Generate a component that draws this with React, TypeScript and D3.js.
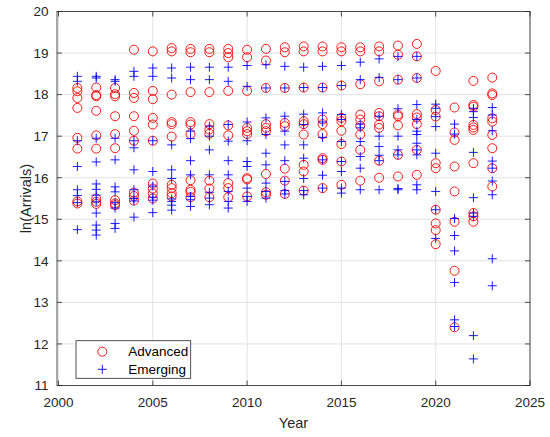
import React from 'react';
import * as d3 from 'd3';

// years 2001..2023, one row of ln(arrivals) values per year
const years = [
  2001, 2002, 2003, 2004, 2005, 2006, 2007, 2008, 2009, 2010, 2011, 2012,
  2013, 2014, 2015, 2016, 2017, 2018, 2019, 2020, 2021, 2022, 2023,
];

const advanced: number[][] = [
  [18.16, 18.08, 17.92, 17.68, 16.96, 16.7, 15.43, 15.38],
  [18.17, 17.99, 17.96, 17.61, 17.02, 16.7, 15.5, 15.42, 15.37],
  [18.16, 18.01, 17.96, 17.48, 17.05, 16.71, 15.46, 15.38, 15.34],
  [19.08, 18.04, 17.92, 17.48, 17.13, 16.89, 15.64, 15.56, 15.45],
  [19.04, 18.09, 17.89, 17.44, 17.28, 16.89, 15.86, 15.74, 15.62, 15.5],
  [19.12, 19.04, 18.0, 17.34, 17.29, 16.99, 15.83, 15.75, 15.63, 15.55],
  [19.1, 19.02, 18.06, 17.34, 17.28, 17.05, 15.94, 15.71, 15.66, 15.53],
  [19.1, 19.02, 18.06, 17.29, 17.16, 17.06, 15.93, 15.74, 15.53],
  [19.1, 19.0, 18.9, 18.09, 17.26, 17.02, 15.87, 15.75, 15.53],
  [19.08, 18.9, 18.09, 17.2, 17.12, 17.05, 15.99, 15.96, 15.55],
  [19.1, 18.82, 18.16, 17.29, 17.2, 17.12, 16.09, 15.65, 15.59],
  [19.14, 19.02, 18.16, 17.32, 17.24, 16.22, 15.93, 15.61],
  [19.16, 19.04, 18.17, 17.36, 17.29, 17.04, 16.31, 16.15, 15.69],
  [19.16, 19.04, 18.17, 17.4, 17.29, 17.05, 16.47, 16.43, 15.75],
  [19.14, 19.04, 18.22, 17.44, 17.36, 17.13, 16.81, 16.39, 15.83],
  [19.14, 19.04, 18.25, 17.52, 17.4, 17.25, 17.04, 16.67, 15.93],
  [19.16, 19.04, 18.32, 17.56, 17.48, 17.28, 17.2, 16.41, 16.0],
  [19.18, 18.96, 18.36, 17.52, 17.48, 17.26, 16.55, 16.03],
  [19.22, 18.92, 18.4, 17.53, 17.45, 17.29, 16.67, 16.07],
  [18.57, 17.63, 17.47, 16.35, 16.23, 15.23, 14.9, 14.74, 14.4],
  [17.69, 17.09, 16.91, 16.27, 15.67, 14.94, 13.76, 12.4],
  [18.33, 17.75, 17.71, 17.27, 17.21, 17.15, 16.35, 15.15, 15.07, 14.94],
  [18.41, 18.03, 17.99, 17.43, 17.35, 17.03, 16.71, 16.23, 15.79],
];

const emerging: number[][] = [
  [18.44, 18.32, 16.89, 16.27, 15.71, 15.57, 15.4, 14.75],
  [18.44, 18.4, 16.95, 16.38, 15.85, 15.72, 15.58, 15.42, 15.15, 14.86, 14.74, 14.62],
  [18.36, 18.32, 16.95, 16.43, 15.78, 15.66, 15.4, 15.27, 14.9, 14.78],
  [18.56, 18.44, 16.89, 16.72, 16.19, 15.71, 15.5, 15.44, 15.05],
  [18.64, 18.44, 16.89, 16.15, 15.8, 15.53, 15.46, 15.16],
  [18.64, 18.4, 16.79, 16.19, 15.98, 15.49, 15.43, 15.34, 15.22],
  [18.66, 18.36, 17.12, 16.94, 16.41, 16.07, 15.55, 15.47, 15.31],
  [18.66, 18.36, 17.24, 17.0, 16.67, 16.07, 15.65, 15.51, 15.35],
  [18.66, 18.32, 17.28, 16.88, 16.41, 16.07, 15.67, 15.43, 15.27],
  [18.7, 18.2, 17.34, 16.89, 16.39, 16.27, 15.75, 15.55, 15.43],
  [18.72, 18.16, 17.44, 17.04, 16.59, 16.31, 15.87, 15.67, 15.51],
  [18.68, 18.16, 17.48, 17.12, 16.79, 16.41, 15.91, 15.69, 15.61],
  [18.66, 18.17, 17.53, 17.28, 16.79, 16.47, 15.98, 15.69, 15.59],
  [18.68, 18.17, 17.56, 17.34, 16.97, 16.43, 16.06, 15.75],
  [18.7, 18.22, 17.52, 17.4, 16.87, 16.39, 16.15, 15.75, 15.63],
  [18.78, 18.36, 17.29, 17.2, 16.87, 16.51, 16.23, 15.71],
  [18.86, 18.41, 17.48, 17.0, 16.75, 16.54, 16.41, 15.71],
  [18.92, 18.36, 17.66, 17.0, 16.67, 16.55, 15.74, 15.71],
  [18.92, 18.4, 17.76, 17.4, 17.12, 17.04, 16.83, 16.67, 16.55, 15.83, 15.71],
  [17.77, 17.67, 17.47, 17.23, 16.59, 15.67, 15.23, 14.54],
  [17.29, 17.05, 15.02, 14.61, 14.24, 13.48, 12.58, 12.42],
  [17.67, 17.59, 17.45, 16.61, 15.52, 15.15, 15.07, 12.2, 11.64],
  [17.69, 17.51, 17.13, 16.4, 16.23, 15.92, 15.59, 14.05, 13.4],
];

const xTicks = [2000, 2005, 2010, 2015, 2020, 2025];
const yTicks = [11, 12, 13, 14, 15, 16, 17, 18, 19, 20];
const seriesNames = ['Advanced', 'Emerging'];

const W = 550;
const H = 437;
const plot = { left: 57, right: 530, top: 11.5, bottom: 385.5 };
const axisColor = '#262626';
const font = '"Liberation Sans", Arial, Helvetica, sans-serif';

const flatten = (rows: number[][]) =>
  rows.flatMap((vals, i) => vals.map(v => ({ year: years[i], v })));

const Circle = ({ cx, cy }: { cx: number; cy: number }) => (
  <circle cx={cx} cy={cy} r={4.5} fill="none" stroke="#ff0000" strokeWidth={0.9} />
);

const Plus = ({ cx, cy }: { cx: number; cy: number }) => (
  <path
    d={`M${cx - 4.5},${cy}H${cx + 4.5}M${cx},${cy - 4.5}V${cy + 4.5}`}
    stroke="#0000ff"
    strokeWidth={0.9}
    fill="none"
  />
);

export default function App() {
  const x = d3.scaleLinear().domain([1999.92, 2025]).range([plot.left, plot.right]);
  const y = d3.scaleLinear().domain([11, 20]).range([plot.bottom, plot.top]);

  const adv = flatten(advanced);
  const emg = flatten(emerging);
  const tick = 5;

  return (
    <svg
      width={W}
      height={H}
      style={{ position: 'absolute', left: 0, top: 0, background: '#fff' }}
      fontFamily={font}
    >
      <rect width={W} height={H} fill="#fff" />
      {/* grid */}
      <g stroke="#e3e3e3" strokeWidth={1}>
        {xTicks.map(t => (
          <line key={'gx' + t} x1={x(t)} x2={x(t)} y1={plot.top} y2={plot.bottom} />
        ))}
        {yTicks.map(t => (
          <line key={'gy' + t} x1={plot.left} x2={plot.right} y1={y(t)} y2={y(t)} />
        ))}
      </g>

      {/* points */}
      <g>
        {adv.map((d, i) => (
          <Circle key={'a' + i} cx={x(d.year)} cy={y(d.v)} />
        ))}
      </g>
      <g>
        {emg.map((d, i) => (
          <Plus key={'e' + i} cx={x(d.year)} cy={y(d.v)} />
        ))}
      </g>

      {/* box + ticks */}
      <rect
        x={plot.left}
        y={plot.top}
        width={plot.right - plot.left}
        height={plot.bottom - plot.top}
        fill="none"
        stroke={axisColor}
        strokeWidth={0.8}
      />
      <g stroke={axisColor} strokeWidth={0.8}>
        {xTicks.map(t => (
          <g key={'tx' + t}>
            <line x1={x(t)} x2={x(t)} y1={plot.bottom} y2={plot.bottom - tick} />
            <line x1={x(t)} x2={x(t)} y1={plot.top} y2={plot.top + tick} />
          </g>
        ))}
        {yTicks.map(t => (
          <g key={'ty' + t}>
            <line x1={plot.left} x2={plot.left + tick} y1={y(t)} y2={y(t)} />
            <line x1={plot.right} x2={plot.right - tick} y1={y(t)} y2={y(t)} />
          </g>
        ))}
      </g>

      {/* tick labels */}
      <g fontSize={13.5} fill={axisColor}>
        {xTicks.map(t => (
          <text key={'lx' + t} x={x(t)} y={407} textAnchor="middle">
            {t}
          </text>
        ))}
        {yTicks.map(t => (
          <text key={'ly' + t} x={48.5} y={y(t)} dy="0.36em" textAnchor="end">
            {t}
          </text>
        ))}
      </g>

      {/* axis titles */}
      <text x={(plot.left + plot.right) / 2} y={428} textAnchor="middle" fontSize={14.5} fill={axisColor}>
        Year
      </text>
      <text
        transform={`translate(31,${(plot.top + plot.bottom) / 2}) rotate(-90)`}
        textAnchor="middle"
        fontSize={14.5}
        fill={axisColor}
      >
        ln(Arrivals)
      </text>

      {/* legend */}
      <g>
        <rect x={76} y={340.7} width={114.7} height={37.6} fill="#fff" stroke={axisColor} strokeWidth={0.8} />
        <Circle cx={102.3} cy={351.7} />
        <Plus cx={102.3} cy={369.3} />
        <text x={128.3} y={356.4} fontSize={13.5} fill="#000">
          {seriesNames[0]}
        </text>
        <text x={128.3} y={374} fontSize={13.5} fill="#000">
          {seriesNames[1]}
        </text>
      </g>
    </svg>
  );
}
